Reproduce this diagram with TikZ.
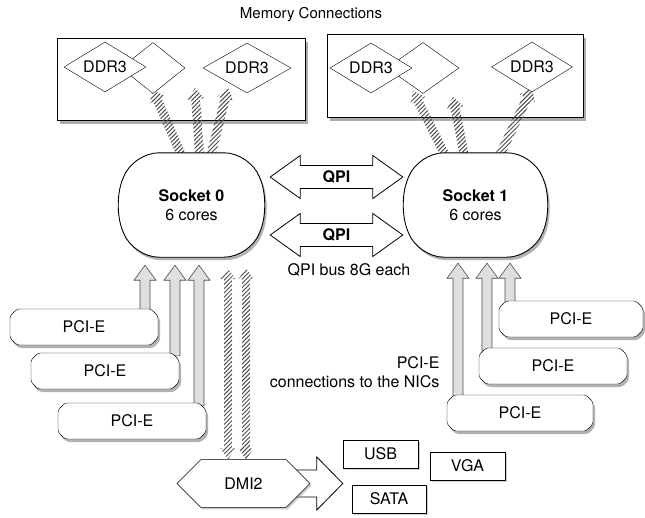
\documentclass[tikz,border=0pt]{standalone}
\usepackage{fontspec}
\setmainfont{TeX Gyre Heros}
\usetikzlibrary{calc,shapes.geometric,shapes.misc,shadows,patterns.meta}

\pgfdeclarelayer{mid}
\pgfdeclarelayer{front}
\pgfsetlayers{main,mid,front}

\begin{document}
\begin{tikzpicture}[x=1pt, y=-1pt, font=\fontsize{16}{19}\selectfont,
    membox/.style={draw, fill=white, line width=0.9pt,
      drop shadow={shadow xshift=2.5pt, shadow yshift=-3.5pt, fill=black!65}},
    ddr/.style={draw, diamond, aspect=2, fill=white, inner sep=0pt, minimum height=50pt},
    socket/.style={rectangle, align=center, inner sep=0pt,
      minimum width=157pt, minimum height=104pt},
    socketline/.style={draw, fill=white, line width=0.9pt, rounded corners=26pt,
      drop shadow={shadow xshift=2pt, shadow yshift=-3pt, fill=black!60}},
    pcie/.style={draw, fill=white, chamfered rectangle, chamfered rectangle sep=3.5pt,
      rounded corners=2.5pt, inner sep=0pt, minimum width=148pt, minimum height=36pt,
      drop shadow={shadow xshift=2pt, shadow yshift=-3pt, fill=black!60}},
    hexbox/.style={draw, fill=white, chamfered rectangle, chamfered rectangle xsep=24pt,
      chamfered rectangle ysep=18pt, inner sep=0pt, minimum width=133pt, minimum height=37pt,
      drop shadow={shadow xshift=1.5pt, shadow yshift=-2pt, fill=black!40}},
    iobox/.style={draw, fill=white, inner sep=0pt, minimum width=75pt, minimum height=28pt,
      drop shadow={shadow xshift=1.5pt, shadow yshift=-1.5pt, fill=black!35}},
    qpilabel/.style={font=\fontsize{16}{19}\selectfont\bfseries},
    % block arrow: shaft half width, head half width, head length
    blockarrow/.style n args={3}{to path={let \p1=(\tikztostart), \p2=(\tikztotarget),
        \p3=($(\p2)!#3!(\p1)$) in
      ($(\p1)!#1!90:(\p2)$) -- ($(\p3)!#1!90:(\p2)$) -- ($(\p3)!#2!90:(\p2)$) -- (\p2)
      -- ($(\p3)!#2!-90:(\p2)$) -- ($(\p3)!#1!-90:(\p2)$) -- ($(\p1)!#1!-90:(\p2)$) -- cycle}},
    dblarrow/.style n args={3}{to path={let \p1=(\tikztostart), \p2=(\tikztotarget),
        \p3=($(\p2)!#3!(\p1)$), \p4=($(\p1)!#3!(\p2)$) in
      (\p1) -- ($(\p4)!#2!90:(\p2)$) -- ($(\p4)!#1!90:(\p2)$) -- ($(\p3)!#1!90:(\p2)$)
      -- ($(\p3)!#2!90:(\p2)$) -- (\p2) -- ($(\p3)!#2!-90:(\p2)$) -- ($(\p3)!#1!-90:(\p2)$)
      -- ($(\p4)!#1!-90:(\p2)$) -- ($(\p4)!#2!-90:(\p2)$) -- cycle}},
    hatch/.style={pattern={Lines[angle=45, distance=3pt, line width=1pt]}, pattern color=black!70},
    hatcharrow/.style={blockarrow={4.5pt}{8.5pt}{11pt}, hatch},
    dmiarrow/.style={dblarrow={4pt}{7.5pt}{11pt}, hatch},
    pciarrow/.style={blockarrow={5pt}{11pt}{15pt}, draw=black!70, fill=gray!25, line width=0.6pt},
    qpiarrow/.style={dblarrow={11.5pt}{21.5pt}{30pt}, draw, fill=white, line width=0.8pt},
    bigarrow/.style={blockarrow={13.5pt}{26.5pt}{26pt}, draw, fill=white, line width=0.8pt}]
\useasboundingbox (0,0) rectangle (645,517);

% memory
\node[font=\fontsize{15}{18}\selectfont] (title) at (311,15) {Memory Connections};
\node[membox, minimum width=248pt, minimum height=82pt] (mem0) at (181,79) {};
\node[membox, minimum width=256pt, minimum height=83pt] (mem1) at (455,75.5) {};
\coordinate (m0b) at (195,88);
\coordinate (m0c) at (228,88);
\coordinate (m1a) at (413,91);
\coordinate (m1b) at (453,97);

\begin{pgfonlayer}{front}
\node[ddr, minimum width=64pt, minimum height=51pt] (d01) at (153,68) {};
\node[ddr, minimum width=82pt] (d00) at (105,67) {DDR3};
\node[ddr, minimum width=88pt] (d02) at (247,68) {DDR3};
\node[ddr, minimum width=72pt, minimum height=51pt] (d11) at (423,68) {};
\node[ddr, minimum width=82pt] (d10) at (371,68) {DDR3};
\node[ddr, minimum width=81pt] (d12) at (532,67) {DDR3};

% sockets
\node[socket] (s0) at (191.5,205) {\textbf{Socket 0}\\6 cores};
\node[socket, minimum width=155pt] (s1) at (475.5,205) {\textbf{Socket 1}\\6 cores};
\draw[qpiarrow] ([yshift=28pt]s0.east) to ([xshift=5pt,yshift=28pt]s1.west);
\draw[qpiarrow] ([yshift=-30pt]s0.east) to ([xshift=5pt,yshift=-30pt]s1.west);
\node[qpilabel] (qpi0) at (336.5,177) {QPI};
\node[qpilabel] (qpi1) at (336.5,235) {QPI};

% PCI-E cards
\node[pcie] (p1) at (84,327) {PCI-E};
\node[pcie] (p2) at (105,371) {PCI-E};
\node[pcie] (p3) at (132,421) {PCI-E};
\node[pcie, minimum width=144pt] (r1) at (571,319) {PCI-E};
\node[pcie] (r2) at (553,366) {PCI-E};
\node[pcie, minimum width=146pt] (r3) at (520,413) {PCI-E};

% chipset
\node[hexbox] (dmi) at (243.5,483.5) {DMI2};
\node[iobox] (usb) at (380.5,454) {USB};
\node[iobox, minimum width=74pt] (sata) at (389,499) {SATA};
\node[iobox] (vga) at (467.5,466) {VGA};
\end{pgfonlayer}

\begin{pgfonlayer}{mid}
\foreach \s in {s0,s1}
  \path[socketline] (\s.west) -- ([xshift=20pt]\s.north west) -- ([xshift=-20pt]\s.north east)
    -- (\s.east) -- ([xshift=-20pt]\s.south east) -- ([xshift=20pt]\s.south west) -- cycle;
\end{pgfonlayer}

\node (qpibus) at (349,270) {QPI bus 8G each};
\node[align=right, anchor=east] (nics) at (443,372.5) {PCI-E\\connections to the NICs};

% memory links
\path[hatcharrow] ([xshift=-8.5pt,yshift=-6pt]s0.north) to ([yshift=4pt]d01.south);
\path[hatcharrow] ([xshift=8.5pt,yshift=-6pt]s0.north) to (m0b);
\path[hatcharrow] ([xshift=18.5pt,yshift=-6pt]s0.north) to (m0c);
\path[hatcharrow] ([xshift=-28.5pt,yshift=-6pt]s1.north) to (m1a);
\path[hatcharrow] ([xshift=-10.5pt,yshift=-6pt]s1.north) to (m1b);
\path[hatcharrow] ([xshift=22.5pt,yshift=-6pt]s1.north) to ([yshift=4pt]d12.south);

% PCI-E links
\draw[pciarrow] ([xshift=61pt,yshift=-3pt]p1.north) to ([xshift=-46.5pt,yshift=-8pt]s0.south);
\draw[pciarrow] ([xshift=70pt,yshift=-3pt]p2.north) to ([xshift=-16.5pt,yshift=-8pt]s0.south);
\draw[pciarrow] ([xshift=67pt,yshift=-3pt]p3.north) to ([xshift=7.5pt,yshift=-8pt]s0.south);
\draw[pciarrow] ([xshift=-62pt,yshift=-3pt]r3.north) to ([xshift=-17.5pt,yshift=-6pt]s1.south);
\draw[pciarrow] ([xshift=-66pt,yshift=-3pt]r2.north) to ([xshift=11.5pt,yshift=-6pt]s1.south);
\draw[pciarrow] ([xshift=-61pt,yshift=-3pt]r1.north) to ([xshift=34.5pt,yshift=-6pt]s1.south);

% DMI links
\path[dmiarrow] ([xshift=36.5pt,yshift=-11pt]s0.south) to ([xshift=-15.5pt]dmi.north);
\path[dmiarrow] ([xshift=54.5pt,yshift=-11pt]s0.south) to ([xshift=2.5pt]dmi.north);
\draw[bigarrow] ([xshift=-20pt]dmi.east) to (dmi.east -| usb.west);
\end{tikzpicture}
\end{document}
